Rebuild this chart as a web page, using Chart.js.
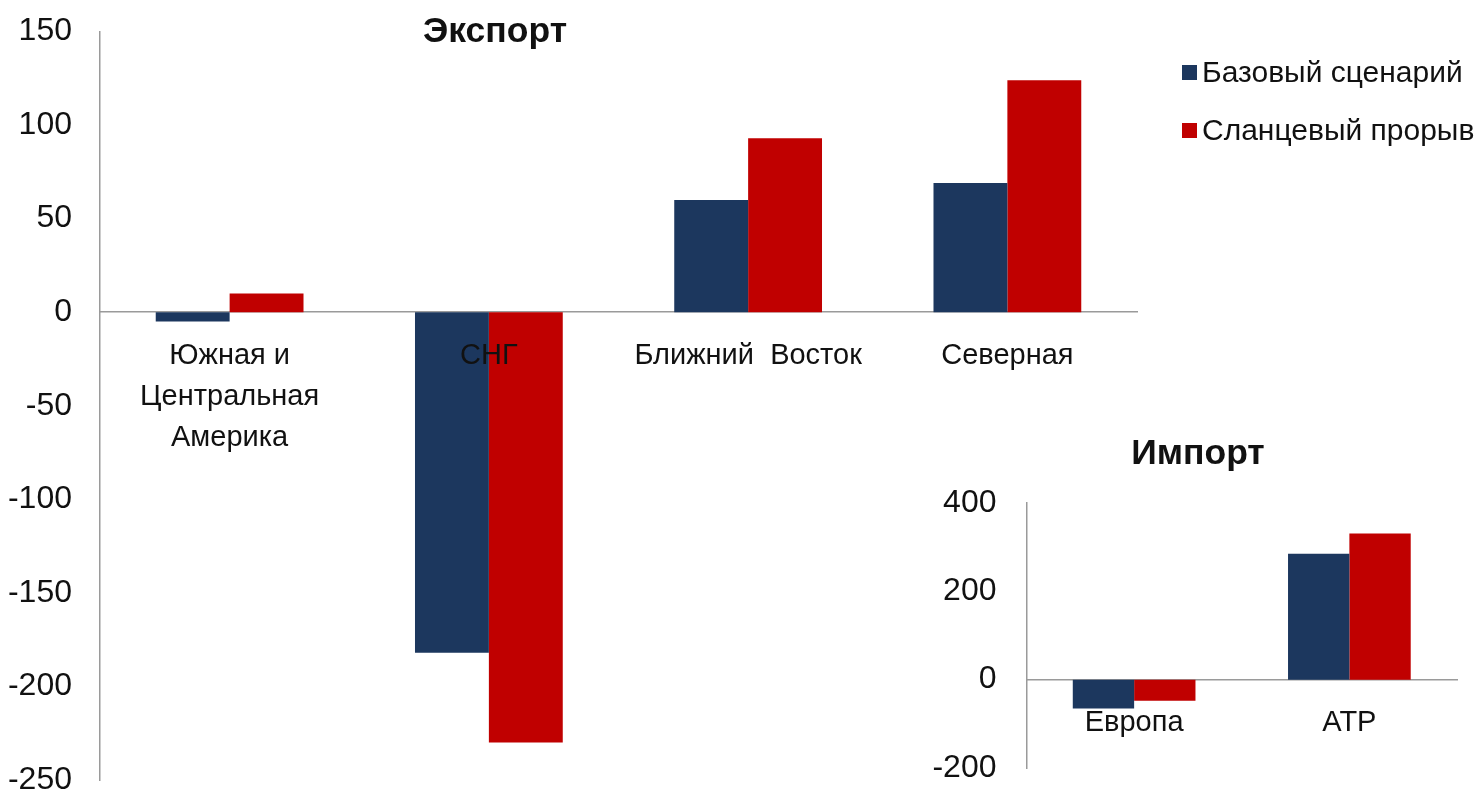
<!DOCTYPE html>
<html lang="ru">
<head>
<meta charset="utf-8">
<title>Экспорт и импорт</title>
<script src="https://cdn.jsdelivr.net/npm/chart.js@4.4.1/dist/chart.umd.min.js"></script>
<style>
  html, body { margin: 0; padding: 0; background: #fff; }
  body {
    width: 1476px; height: 799px; position: relative; overflow: hidden;
    font-family: "Liberation Sans", Arial, sans-serif; color: #111;
  }
  #exportWrap { position: absolute; left: 0; top: 0; width: 1476px; height: 799px; }
  #importWrap { position: absolute; left: 900px; top: 385px; width: 576px; height: 414px; background: #fff; }
  .title {
    position: absolute; font-weight: bold; font-size: 35.5px; line-height: 1;
    transform: translate(-50%, -50%); white-space: nowrap;
  }
  .legend-item {
    position: absolute; display: flex; align-items: center; white-space: nowrap;
    font-size: 30px; line-height: 1; transform: translateY(-50%);
  }
  .swatch { width: 15px; height: 15px; margin-right: 5px; flex: none; }
</style>
</head>
<body>
<div id="exportWrap"><canvas id="exportCanvas" width="1476" height="799"></canvas></div>
<div id="importWrap"><canvas id="importCanvas" width="576" height="414"></canvas></div>
<div class="title" style="left:495px; top:31px;">Экспорт</div>
<div class="title" style="left:1198px; top:453px;">Импорт</div>
<div id="legend"></div>

<script>
// Series
const seriesNames = ['Базовый сценарий', 'Сланцевый прорыв'];
const seriesColors = ['#1c375e', '#c00000'];

// Export panel
const exportCategories = [['Южная и', 'Центральная', 'Америка'], 'СНГ', 'Ближний  Восток', ['Северная', 'Америка']];
const exportBase = [-5, -182, 60, 69];
const exportShale = [10, -230, 93, 124];
const exportTicks = { min: -250, max: 150, step: 50 };

// Import panel
const importCategories = ['Европа', 'АТР'];
const importBase = [-65, 285];
const importShale = [-48, 331];
const importTicks = { min: -200, max: 400, step: 200 };

const fontFamily = "'Liberation Sans', Arial, sans-serif";
const textColor = '#111111';
const axisColor = '#9a9a9a';

Chart.defaults.font.family = fontFamily;
Chart.defaults.color = textColor;

function makeDatasets(base, shale) {
  return [
    { label: seriesNames[0], data: base, backgroundColor: seriesColors[0], borderWidth: 0 },
    { label: seriesNames[1], data: shale, backgroundColor: seriesColors[1], borderWidth: 0 }
  ];
}

function makeOptions(cfg) {
  return {
    responsive: false,
    animation: false,
    events: [],
    layout: { padding: cfg.padding },
    datasets: { bar: { categoryPercentage: 0.57, barPercentage: 1 } },
    plugins: {
      legend: { display: false },
      title: { display: false },
      tooltip: { enabled: false }
    },
    scales: {
      x: {
        position: { y: 0 },
        grid: { display: false, drawTicks: false },
        border: { display: true, color: axisColor, width: 1.5 },
        ticks: {
          z: 1,
          autoSkip: false,
          maxRotation: 0,
          minRotation: 0,
          padding: 23,
          color: textColor,
          font: { size: 29, lineHeight: 1.42 }
        }
      },
      y: {
        min: cfg.ticks.min,
        max: cfg.ticks.max,
        afterFit: (scale) => {
          // fixed axis width; the plot edges come from the layout padding alone
          scale.width = cfg.axisWidth;
          scale.paddingTop = 0;
          scale.paddingBottom = 0;
        },
        grid: { display: false, drawTicks: false },
        border: { display: true, color: axisColor, width: 1.5 },
        ticks: {
          stepSize: cfg.ticks.step,
          padding: cfg.tickPad,
          color: textColor,
          font: { size: 32 },
          callback: (v) => String(v)
        }
      }
    }
  };
}

const exportChart = new Chart(document.getElementById('exportCanvas'), {
  type: 'bar',
  data: { labels: exportCategories, datasets: makeDatasets(exportBase, exportShale) },
  options: makeOptions({
    padding: { left: 0, right: 339, top: 31.5, bottom: 19 },
    ticks: exportTicks,
    axisWidth: 100,
    tickPad: 28
  })
});

const importChart = new Chart(document.getElementById('importCanvas'), {
  type: 'bar',
  data: { labels: importCategories, datasets: makeDatasets(importBase, importShale) },
  options: makeOptions({
    padding: { left: 0, right: 19, top: 118, bottom: 31 },
    ticks: importTicks,
    axisWidth: 126.5,
    tickPad: 30
  })
});

// Shared legend, built from the export datasets
const legendEl = document.getElementById('legend');
const legendRows = [72, 130];
exportChart.data.datasets.forEach((ds, i) => {
  const item = document.createElement('div');
  item.className = 'legend-item';
  item.style.left = '1182px';
  item.style.top = legendRows[i] + 'px';
  const sw = document.createElement('span');
  sw.className = 'swatch';
  sw.style.background = ds.backgroundColor;
  const txt = document.createElement('span');
  txt.textContent = ds.label;
  item.appendChild(sw);
  item.appendChild(txt);
  legendEl.appendChild(item);
});
</script>
</body>
</html>
